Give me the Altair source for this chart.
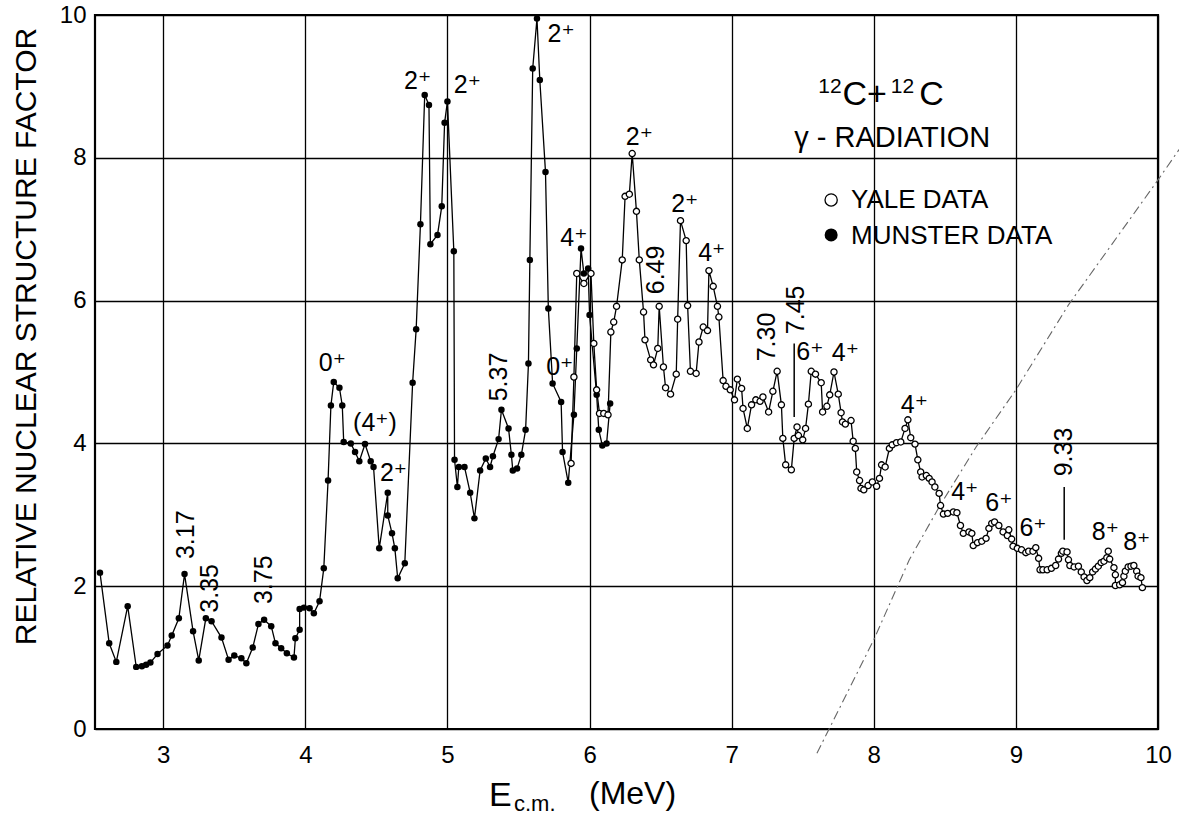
import altair as alt
import pandas as pd

FONT = "Liberation Sans, DejaVu Sans"

# ---- data (E c.m. in MeV, relative nuclear structure factor) ----
munster_x = [2.555, 2.62, 2.67, 2.75, 2.81, 2.85, 2.88, 2.91, 2.96, 3.03, 3.06, 3.11, 3.15, 3.21, 3.25,
             3.30, 3.34, 3.41, 3.46, 3.50, 3.55, 3.585, 3.63, 3.67, 3.71, 3.76, 3.79, 3.83, 3.87, 3.92,
             3.93, 3.96, 3.96, 3.99, 4.03, 4.06, 4.10, 4.13, 4.16, 4.18, 4.20, 4.24, 4.26, 4.27, 4.32,
             4.35, 4.38, 4.42, 4.46, 4.48, 4.52, 4.58, 4.58, 4.61, 4.63, 4.65, 4.70, 4.755, 4.78, 4.81,
             4.84, 4.87, 4.88, 4.93, 4.96, 4.98, 5.00, 5.045, 5.05, 5.07, 5.08, 5.12, 5.16, 5.19, 5.23,
             5.27, 5.30, 5.32, 5.36, 5.38, 5.43, 5.45, 5.46, 5.49, 5.52, 5.55, 5.57, 5.58, 5.60, 5.63,
             5.65, 5.69, 5.71, 5.74, 5.80, 5.81, 5.85, 5.89, 5.91, 5.94, 5.96, 5.99, 6.00, 6.05, 6.065,
             6.09, 6.12, 6.145]
munster_y = [2.19, 1.20, 0.94, 1.72, 0.87, 0.88, 0.90, 0.93, 1.05, 1.17, 1.31, 1.55, 2.17, 1.37, 0.96,
             1.55, 1.51, 1.28, 0.97, 1.03, 0.99, 0.92, 1.14, 1.47, 1.53, 1.44, 1.20, 1.13, 1.06, 1.00,
             1.27, 1.39, 1.68, 1.70, 1.69, 1.62, 1.79, 2.25, 3.48, 4.53, 4.86, 4.78, 4.53, 4.02, 4.00,
             3.88, 3.75, 3.99, 3.75, 3.67, 2.53, 3.31, 2.99, 2.74, 2.53, 2.11, 2.32, 4.85, 5.60, 7.07,
             8.88, 8.74, 6.79, 6.92, 7.32, 8.49, 8.79, 6.69, 3.77, 3.39, 3.67, 3.67, 3.31, 2.95, 3.62,
             3.79, 3.67, 3.82, 4.06, 4.47, 4.21, 3.84, 3.62, 3.65, 3.84, 4.19, 5.12, 6.57, 9.25, 9.95,
             9.09, 7.80, 5.89, 4.84, 4.58, 3.88, 3.45, 4.40, 5.33, 6.73, 6.38, 6.45, 5.80, 4.68, 4.19,
             3.97, 4.00, 4.56]

yale_x = [5.87, 5.89, 5.91, 5.96, 6.01, 6.03, 6.05, 6.07, 6.10, 6.13, 6.15, 6.17, 6.19, 6.23, 6.25,
          6.28, 6.30, 6.33, 6.35, 6.38, 6.39, 6.43, 6.45, 6.48, 6.49, 6.52, 6.535, 6.57, 6.61, 6.62,
          6.64, 6.68, 6.69, 6.71, 6.75, 6.77, 6.80, 6.83, 6.84, 6.87, 6.90, 6.91, 6.94, 6.96, 6.99,
          7.02, 7.04, 7.07, 7.08, 7.11, 7.14, 7.17, 7.20, 7.22, 7.26, 7.29, 7.32, 7.35, 7.36, 7.38,
          7.42, 7.44, 7.46, 7.47, 7.50, 7.52, 7.54, 7.56, 7.59, 7.63, 7.64, 7.67, 7.69, 7.72, 7.75,
          7.77, 7.78, 7.80, 7.84, 7.855, 7.87, 7.88, 7.90, 7.91, 7.93, 7.96, 7.99, 8.02, 8.04, 8.055,
          8.08, 8.11, 8.13, 8.16, 8.19, 8.22, 8.24, 8.26, 8.29, 8.31, 8.33, 8.34, 8.37, 8.39, 8.41,
          8.43, 8.46, 8.47, 8.49, 8.52, 8.56, 8.585, 8.61, 8.63, 8.67, 8.69, 8.70, 8.73, 8.76, 8.79,
          8.81, 8.83, 8.85, 8.88, 8.91, 8.94, 8.95, 8.97, 8.98, 9.01, 9.04, 9.07, 9.09, 9.12, 9.14,
          9.16, 9.17, 9.19, 9.22, 9.25, 9.28, 9.30, 9.32, 9.33, 9.36, 9.37, 9.38, 9.41, 9.44, 9.46,
          9.48, 9.50, 9.52, 9.54, 9.56, 9.58, 9.60, 9.62, 9.64, 9.65, 9.66, 9.69, 9.70, 9.70, 9.73,
          9.75, 9.76, 9.77, 9.79, 9.81, 9.83, 9.85, 9.86, 9.88, 9.89]
yale_y = [3.72, 4.93, 6.38, 6.24, 6.38, 5.40, 4.75, 4.42, 4.42, 4.40, 5.56, 5.70, 5.92, 6.57, 7.46,
          7.49, 8.06, 7.25, 6.57, 5.84, 5.45, 5.17, 5.10, 5.33, 5.92, 5.07, 4.78, 4.69, 4.97, 5.74,
          7.12, 6.84, 5.93, 5.01, 4.98, 5.42, 5.63, 5.58, 6.42, 6.20, 5.92, 5.77, 4.88, 4.80, 4.75,
          4.61, 4.90, 4.77, 4.49, 4.21, 4.54, 4.61, 4.59, 4.65, 4.44, 4.73, 5.01, 4.54, 4.07, 3.70,
          3.63, 4.07, 4.23, 4.11, 4.05, 4.21, 4.55, 5.01, 4.97, 4.85, 4.44, 4.52, 4.68, 5.00, 4.69,
          4.43, 4.30, 4.27, 4.32, 4.03, 3.93, 3.60, 3.48, 3.37, 3.35, 3.41, 3.46, 3.40, 3.51, 3.70,
          3.67, 3.93, 3.98, 4.01, 4.02, 4.21, 4.33, 4.08, 3.99, 3.77, 3.60, 3.53, 3.55, 3.51, 3.46,
          3.39, 3.30, 3.13, 3.01, 3.02, 3.04, 3.03, 2.85, 2.74, 2.76, 2.74, 2.57, 2.61, 2.63, 2.67,
          2.81, 2.88, 2.90, 2.85, 2.76, 2.71, 2.79, 2.66, 2.56, 2.53, 2.51, 2.47, 2.49, 2.49, 2.54,
          2.39, 2.23, 2.23, 2.23, 2.25, 2.29, 2.38, 2.46, 2.49, 2.48, 2.37, 2.29, 2.27, 2.28, 2.20,
          2.13, 2.08, 2.12, 2.20, 2.24, 2.28, 2.33, 2.35, 2.40, 2.49, 2.38, 2.26, 2.16, 2.01, 2.02,
          2.05, 2.14, 2.21, 2.27, 2.28, 2.29, 2.21, 2.14, 2.12, 1.98]

# dash-dot diagonal line
diag_x = [7.60, 8.00, 8.25, 8.46, 8.72, 9.00, 9.37, 10.00, 10.15]
diag_y = [-0.34, 1.25, 2.37, 3.11, 3.95, 4.75, 5.94, 7.69, 8.12]

# upright state labels
lab_x = [4.19, 4.49, 4.62, 4.79, 5.14, 5.80, 5.89, 5.79, 6.35, 6.67, 6.86, 7.55, 7.80, 8.285, 8.64,
         8.88, 9.12, 9.63, 9.85]
lab_y = [5.12, 4.28, 3.58, 9.07, 9.02, 9.74, 6.87, 5.07, 8.29, 7.35, 6.66, 5.28, 5.27, 4.54, 3.32,
         3.16, 2.81, 2.76, 2.62]
lab_t = ["0⁺", "(4⁺)", "2⁺", "2⁺", "2⁺", "2⁺", "4⁺", "0⁺", "2⁺", "2⁺", "4⁺", "6⁺", "4⁺", "4⁺", "4⁺",
         "6⁺", "6⁺", "8⁺", "8⁺"]

# rotated energy labels
rot_x = [3.16, 3.33, 3.71, 5.36, 6.47, 7.25, 7.45, 9.34]
rot_y = [2.72, 1.97, 2.09, 4.93, 6.43, 5.49, 5.87, 3.88]
rot_t = ["3.17", "3.35", "3.75", "5.37", "6.49", "7.30", "7.45", "9.33"]

# short marker lines (7.45 and 9.33)
mk_x = [7.44, 7.44, 9.34, 9.34]
mk_y = [5.40, 4.37, 3.39, 2.65]
mk_g = ["a", "a", "b", "b"]

x_ticks = [3, 4, 5, 6, 7, 8, 9, 10]
y_ticks = [0, 2, 4, 6, 8, 10]

# legend block pieces
leg_big_x = [7.78, 8.32]
leg_big_y = [8.74, 8.74]
leg_big_t = ["C+", "C"]
leg_sup_x = [7.61, 8.12]
leg_sup_y = [8.91, 8.91]
leg_sup_t = ["12", "12"]
leg_txt_x = [7.44, 7.84, 7.84]
leg_txt_y = [8.28, 7.41, 6.90]
leg_txt_t = ["γ - RADIATION", "YALE DATA", "MUNSTER DATA"]

mdf = pd.DataFrame({"E": munster_x, "S": munster_y, "i": list(range(len(munster_x)))})
ydf = pd.DataFrame({"E": yale_x, "S": yale_y, "i": list(range(len(yale_x)))})
ddf = pd.DataFrame({"E": diag_x, "S": diag_y, "i": list(range(len(diag_x)))})
ldf = pd.DataFrame({"E": lab_x, "S": lab_y, "t": lab_t})
rdf = pd.DataFrame({"E": rot_x, "S": rot_y, "t": rot_t})
kdf = pd.DataFrame({"E": mk_x, "S": mk_y, "g": mk_g})

xs = alt.Scale(domain=[2.52, 10], nice=False, zero=False)
ys = alt.Scale(domain=[0, 10], nice=False, zero=False)

X = alt.X("E:Q", scale=xs, axis=alt.Axis(values=x_ticks, format="d", grid=True, gridColor="black",
                                         gridWidth=1.3, gridOpacity=1, domain=False, ticks=False,
                                         labelFontSize=24, labelPadding=14, labelFont=FONT,
                                         labelColor="black", labelFlush=False, title=None))
Y = alt.Y("S:Q", scale=ys, axis=alt.Axis(values=y_ticks, format="d", grid=True, gridColor="black",
                                         gridWidth=1.3, gridOpacity=1, domain=False, ticks=False,
                                         labelFontSize=24, labelPadding=9, labelFont=FONT,
                                         labelColor="black", labelFlush=False,
                                         title="RELATIVE NUCLEAR STRUCTURE FACTOR",
                                         titleFont=FONT, titleFontSize=30, titleFontWeight="normal",
                                         titleColor="black", titleAngle=270, titleBaseline="middle",
                                         titleAlign="center", titleX=-69, titleY=321))

base = alt.Chart(mdf)

m_line = base.mark_line(color="black", strokeWidth=1.3).encode(x=X, y=Y, order="i:Q")
m_pts = base.mark_circle(color="black", size=42, opacity=1).encode(x="E:Q", y="S:Q")

y_line = alt.Chart(ydf).mark_line(color="black", strokeWidth=1.3).encode(x="E:Q", y="S:Q", order="i:Q")
y_pts = alt.Chart(ydf).mark_point(shape="circle", filled=True, fill="white", stroke="black",
                                  strokeWidth=1.3, size=38, opacity=1).encode(x="E:Q", y="S:Q")

diag = alt.Chart(ddf).mark_line(color="#666666", strokeWidth=1.1, strokeDash=[9, 4, 2, 4]).encode(
    x="E:Q", y="S:Q", order="i:Q")

marks = alt.Chart(kdf).mark_line(color="black", strokeWidth=1.5).encode(x="E:Q", y="S:Q", detail="g:N")

labels = alt.Chart(ldf).mark_text(font=FONT, fontSize=25, color="black", align="center",
                                  baseline="middle").encode(x="E:Q", y="S:Q", text="t:N")
rlabels = alt.Chart(rdf).mark_text(font=FONT, fontSize=25, color="black", align="center",
                                   baseline="middle", angle=270).encode(x="E:Q", y="S:Q", text="t:N")

leg_big = alt.Chart(pd.DataFrame({"E": leg_big_x, "S": leg_big_y, "t": leg_big_t})).mark_text(
    font=FONT, fontSize=34, color="black", align="left", baseline="alphabetic"
).encode(x="E:Q", y="S:Q", text="t:N")
leg_sup = alt.Chart(pd.DataFrame({"E": leg_sup_x, "S": leg_sup_y, "t": leg_sup_t})).mark_text(
    font=FONT, fontSize=21, color="black", align="left", baseline="alphabetic"
).encode(x="E:Q", y="S:Q", text="t:N")
leg_txt0 = alt.Chart(pd.DataFrame({"E": leg_txt_x[:1], "S": leg_txt_y[:1], "t": leg_txt_t[:1]})).mark_text(
    font=FONT, fontSize=29, color="black", align="left", baseline="middle"
).encode(x="E:Q", y="S:Q", text="t:N")
leg_txt_rest = alt.Chart(pd.DataFrame({"E": leg_txt_x[1:], "S": leg_txt_y[1:], "t": leg_txt_t[1:]})).mark_text(
    font=FONT, fontSize=26, color="black", align="left", baseline="middle"
).encode(x="E:Q", y="S:Q", text="t:N")
leg_open = alt.Chart(pd.DataFrame({"E": [7.70], "S": [7.41]})).mark_point(
    shape="circle", filled=True, fill="white", stroke="black", strokeWidth=1.3, size=150, opacity=1
).encode(x="E:Q", y="S:Q")
leg_fill = alt.Chart(pd.DataFrame({"E": [7.70], "S": [6.92]})).mark_circle(
    color="black", size=170, opacity=1).encode(x="E:Q", y="S:Q")

# x-axis title with subscript
xt = pd.DataFrame({"t": ["E", "c.m.", "(MeV)"]})
xt_E = alt.Chart(xt.iloc[[0]]).mark_text(font=FONT, fontSize=34, color="black", align="left",
                                        baseline="alphabetic").encode(
    x=alt.value(394), y=alt.value(791), text="t:N")
xt_cm = alt.Chart(xt.iloc[[1]]).mark_text(font=FONT, fontSize=22, color="black", align="left",
                                         baseline="alphabetic").encode(
    x=alt.value(419), y=alt.value(796), text="t:N")
xt_u = alt.Chart(xt.iloc[[2]]).mark_text(font=FONT, fontSize=32, color="black", align="left",
                                        baseline="alphabetic").encode(
    x=alt.value(494), y=alt.value(789), text="t:N")

chart = alt.layer(
    m_line, diag, marks, m_pts, y_line, y_pts, labels, rlabels,
    leg_big, leg_sup, leg_txt0, leg_txt_rest, leg_open, leg_fill, xt_E, xt_cm, xt_u
).properties(
    width=1063, height=714,
    padding={"left": 95, "top": 15, "right": 21, "bottom": 88},
    autosize="none",
    background="white",
).configure_view(stroke="black", strokeWidth=2.2)

chart.save("out.html", embed_options={"renderer": "svg", "actions": False})
